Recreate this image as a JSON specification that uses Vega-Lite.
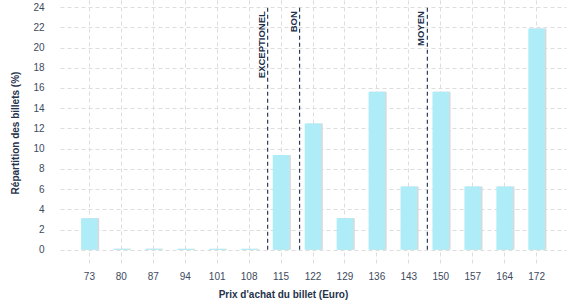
{
  "$schema": "https://vega.github.io/schema/vega-lite/v6.json",
  "autosize": "none",
  "width": 506,
  "height": 265,
  "padding": {"left": 60, "top": 0, "right": 11, "bottom": 35},
  "background": "white",
  "config": {
    "view": {"stroke": null},
    "font": "Liberation Sans",
    "axis": {
      "labelFont": "Liberation Sans",
      "titleFont": "Liberation Sans",
      "labelFontSize": 10,
      "titleFontSize": 10,
      "labelColor": "#3d4a5e",
      "titleColor": "#25324c",
      "titleFontWeight": "bold",
      "labelOverlap": false,
      "domain": false,
      "ticks": false,
      "gridColor": "#dddddd",
      "gridDash": [4, 3],
      "gridWidth": 1
    }
  },
  "datasets": {
    "bars": [
      {"price": 73, "pct": 3.125},
      {"price": 80, "pct": 0.1},
      {"price": 87, "pct": 0.1},
      {"price": 94, "pct": 0.1},
      {"price": 101, "pct": 0.1},
      {"price": 108, "pct": 0.1},
      {"price": 115, "pct": 9.375},
      {"price": 122, "pct": 12.5},
      {"price": 129, "pct": 3.125},
      {"price": 136, "pct": 15.625},
      {"price": 143, "pct": 6.25},
      {"price": 150, "pct": 15.625},
      {"price": 157, "pct": 6.25},
      {"price": 164, "pct": 6.25},
      {"price": 172, "pct": 21.875}
    ],
    "seuils": [
      {"price": 115, "label": "EXCEPTIONEL"},
      {"price": 122, "label": "BON"},
      {"price": 150, "label": "MOYEN"}
    ]
  },
  "layer": [
    {
      "data": {"name": "bars"},
      "mark": {"type": "bar", "color": "#d9d9d9", "width": {"band": 0.52}, "xOffset": 1.5},
      "encoding": {
        "x": {
          "field": "price",
          "type": "ordinal",
          "scale": {"paddingInner": 0, "paddingOuter": 0.42},
          "axis": {"grid": true, "bandPosition": 0.5, "labelAngle": 0, "labelPadding": 6, "title": "Prix d'achat du billet (Euro)", "titlePadding": 8, "titleX": 223}
        },
        "y": {
          "field": "pct",
          "type": "quantitative",
          "scale": {"domain": [-1.5, 24.7], "nice": false, "zero": false},
          "axis": {"values": [0, 2, 4, 6, 8, 10, 12, 14, 16, 18, 20, 22, 24], "grid": true, "labelOverlap": false, "labelPadding": 16, "title": "Répartition des billets (%)", "titlePadding": 12}
        },
        "y2": {"datum": 0}
      }
    },
    {
      "data": {"name": "bars"},
      "mark": {"type": "bar", "color": "#aeedf8", "width": {"band": 0.52}},
      "encoding": {
        "x": {
          "field": "price",
          "type": "ordinal",
          "axis": {"grid": true, "bandPosition": 0.5, "labelAngle": 0, "labelPadding": 6, "title": "Prix d'achat du billet (Euro)", "titlePadding": 8, "titleX": 223}
        },
        "y": {
          "field": "pct",
          "type": "quantitative",
          "axis": {"values": [0, 2, 4, 6, 8, 10, 12, 14, 16, 18, 20, 22, 24], "grid": true, "labelOverlap": false, "labelPadding": 16, "title": "Répartition des billets (%)", "titlePadding": 12}
        },
        "y2": {"datum": 0}
      }
    },
    {
      "data": {"name": "seuils"},
      "mark": {"type": "rule", "color": "#2b3c58", "strokeWidth": 1.2, "strokeDash": [4, 3]},
      "encoding": {
        "x": {
          "field": "price",
          "type": "ordinal",
          "bandPosition": 0.08,
          "axis": {"grid": true, "bandPosition": 0.5, "labelAngle": 0, "labelPadding": 6, "title": "Prix d'achat du billet (Euro)", "titlePadding": 8, "titleX": 223}
        },
        "y": {
          "datum": 0,
          "type": "quantitative",
          "axis": {"values": [0, 2, 4, 6, 8, 10, 12, 14, 16, 18, 20, 22, 24], "grid": true, "labelOverlap": false, "labelPadding": 16, "title": "Répartition des billets (%)", "titlePadding": 12}
        },
        "y2": {"datum": 24}
      }
    },
    {
      "data": {"name": "seuils"},
      "mark": {
        "type": "text",
        "angle": 270,
        "align": "right",
        "baseline": "alphabetic",
        "dy": -3,
        "fontSize": 9.5,
        "fontWeight": "bold",
        "color": "#22304a",
        "font": "Liberation Sans"
      },
      "encoding": {
        "x": {
          "field": "price",
          "type": "ordinal",
          "bandPosition": 0.08,
          "axis": {"grid": true, "bandPosition": 0.5, "labelAngle": 0, "labelPadding": 6, "title": "Prix d'achat du billet (Euro)", "titlePadding": 8, "titleX": 223}
        },
        "y": {
          "datum": 23.6,
          "type": "quantitative",
          "axis": {"values": [0, 2, 4, 6, 8, 10, 12, 14, 16, 18, 20, 22, 24], "grid": true, "labelOverlap": false, "labelPadding": 16, "title": "Répartition des billets (%)", "titlePadding": 12}
        },
        "text": {"field": "label"}
      }
    }
  ]
}
